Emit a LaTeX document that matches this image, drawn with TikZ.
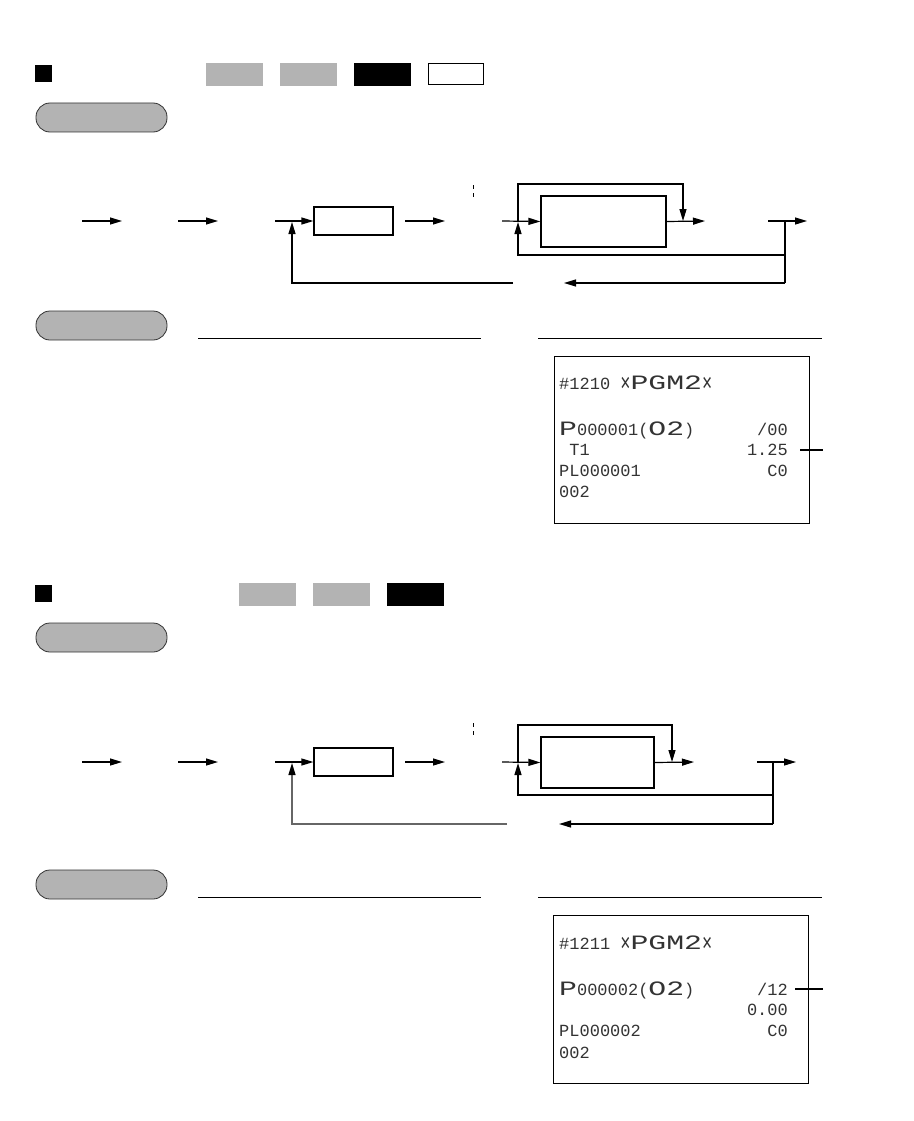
\documentclass[tikz,border=0pt]{standalone}
\usepackage{fontspec}
\newfontfamily\rcpt{Liberation Mono}
\usetikzlibrary{arrows.meta}
\definecolor{keygray}{HTML}{B3B3B3}
\newcommand{\dw}[1]{\scalebox{1.75}[1.2]{#1}}
\newcommand{\xm}{\raisebox{-0.12em}{\scalebox{1}[1.5]{×}}}
\begin{document}
\begin{tikzpicture}[x=1pt,y=-1pt,
  ln/.style={line width=1.2pt},
  arr/.style={ln,-{Triangle[length=12pt,width=7pt]}},
  grayarr/.style={ln,draw=black!60,-{Triangle[length=12pt,width=7pt,color=black]}},
  flowbox/.style={draw,line width=1.2pt,inner sep=0pt},
  pill/.style={draw=black!80,fill=keygray,line width=0.8pt,rounded corners=14pt,minimum width=131pt,minimum height=29pt,inner sep=0pt},
  keybox/.style={minimum width=57pt,minimum height=23pt,inner sep=0pt},
  sq/.style={fill=black,minimum width=17pt,minimum height=17pt,inner sep=0pt},
  rcptbox/.style={draw,line width=1pt,inner sep=0pt},
  rt/.style={font=\rcpt\fontsize{17pt}{19pt}\selectfont,text=black!80,inner sep=0pt},
  dmark/.style={line width=1pt,dash pattern=on 4pt off 4pt},
  rule/.style={line width=1pt}]
\useasboundingbox (0,0) rectangle (913,1121);

% ================= Section 1 header =================
\node[sq] (sq1) at (43.5,73.5) {};
\node[keybox,fill=keygray] (k1a) at (234.5,74.5) {};
\node[keybox,fill=keygray] (k1b) at (308.5,74.5) {};
\node[keybox,fill=black] (k1c) at (382.5,74.5) {};
\node[keybox,draw,line width=1pt,minimum width=55pt,minimum height=21pt] (k1d) at (456,74.5) {};
\node[pill] (p1) at (101.5,117.5) {};

% ================= Section 1 flow =================
\coordinate (a1s) at (82,221);  \coordinate (a1e) at (122,221);
\coordinate (a2s) at (178,221); \coordinate (a2e) at (218,221);
\coordinate (a3s) at (275,221);
\node[flowbox,minimum width=79pt,minimum height=28pt] (b1) at (353.5,221) {};
\coordinate (a4s) at (405,221); \coordinate (a4e) at (445,221);
\coordinate (m1a) at (473,185); \coordinate (m1b) at (473,198);
\coordinate (a5s) at (502,221);
\node[flowbox,minimum width=125pt,minimum height=51pt] (b2) at (603.5,221.5) {};
\coordinate (j1) at (518,221);
\coordinate (t1) at (683,184);
\coordinate (d1) at (683,221);
\coordinate (o1) at (705,221);
\coordinate (l1s) at (768,221); \coordinate (l1e) at (807,221);
\coordinate (k1) at (785,221);
\coordinate (k1m) at (785,255);
\coordinate (k1b) at (785,283);
\coordinate (up1) at (518,222);
\coordinate (f1a) at (564,283);
\coordinate (f1b) at (513,283);
\coordinate (f1t) at (292,222);

\draw[arr] (a1s) -- (a1e);
\draw[arr] (a2s) -- (a2e);
\draw[arr] (a3s) -- (b1.west);
\draw[arr] (a4s) -- (a4e);
\draw[dmark] (m1a) -- (m1b);
\draw[arr] (a5s) -- (b2.west);
\draw[arr] (j1) |- (t1) -- (d1);
\draw[arr] (b2.east) -- (o1);
\draw[arr] (l1s) -- (l1e);
\draw[ln] (k1) -- (k1b);
\draw[arr] (k1m) -| (up1);
\draw[arr] (k1b) -- (f1a);
\draw[arr] (f1b) -| (f1t);

% ================= Section 1 print =================
\node[pill] (p2) at (101.5,325.5) {};
\coordinate (r1a) at (198,338); \coordinate (r1b) at (481,338);
\coordinate (r1c) at (538,338); \coordinate (r1d) at (822,338);
\draw[rule] (r1a) -- (r1b);
\draw[rule] (r1c) -- (r1d);
\node[rcptbox,minimum width=255pt,minimum height=167pt] (rc1) at (681.5,439.5) {};
\node[rt,anchor=base west] (rc1l1) at (559,389) {\#1210 \xm\dw{PGM2}\xm};
\node[rt,anchor=base west] (rc1l2) at (559,435) {\dw{P}000001(\dw{O2})};
\node[rt,anchor=base east] (rc1r2) at (788,435) {/00};
\node[rt,anchor=base west] (rc1l3) at (559,455.5) {\ T1};
\node[rt,anchor=base east] (rc1r3) at (788,455.5) {1.25};
\node[rt,anchor=base west] (rc1l4) at (559,476.5) {PL000001};
\node[rt,anchor=base east] (rc1r4) at (788,476.5) {C0};
\node[rt,anchor=base west] (rc1l5) at (559,497.5) {002};
\coordinate (ld1a) at (800,450); \coordinate (ld1b) at (823,450);
\draw[ln] (ld1a) -- (ld1b);

% ================= Section 2 header =================
\node[sq] (sq2) at (43.5,593.5) {};
\node[keybox,fill=keygray] (k2a) at (267.5,594.5) {};
\node[keybox,fill=keygray] (k2b) at (341.5,594.5) {};
\node[keybox,fill=black] (k2c) at (415.5,594.5) {};
\node[pill] (p3) at (101.5,637.5) {};

% ================= Section 2 flow =================
\coordinate (c1s) at (82,762);  \coordinate (c1e) at (122,762);
\coordinate (c2s) at (178,762); \coordinate (c2e) at (218,762);
\coordinate (c3s) at (275,762);
\node[flowbox,minimum width=79pt,minimum height=28pt] (e1) at (353.5,762) {};
\coordinate (c4s) at (405,762); \coordinate (c4e) at (445,762);
\coordinate (m2a) at (473,723); \coordinate (m2b) at (473,736);
\coordinate (c5s) at (502,762);
\node[flowbox,minimum width=113pt,minimum height=51pt] (e2) at (597.5,762.5) {};
\coordinate (j2) at (518,762);
\coordinate (t2) at (672,725);
\coordinate (d2) at (672,762);
\coordinate (o2) at (694,762);
\coordinate (l2s) at (757,762); \coordinate (l2e) at (796,762);
\coordinate (k2) at (773,762);
\coordinate (k2m) at (773,795);
\coordinate (k2b) at (773,824);
\coordinate (up2) at (518,763);
\coordinate (f2a) at (559,824);
\coordinate (f2b) at (507,824);
\coordinate (f2t) at (292,763);

\draw[arr] (c1s) -- (c1e);
\draw[arr] (c2s) -- (c2e);
\draw[arr] (c3s) -- (e1.west);
\draw[arr] (c4s) -- (c4e);
\draw[dmark] (m2a) -- (m2b);
\draw[arr] (c5s) -- (e2.west);
\draw[arr] (j2) |- (t2) -- (d2);
\draw[arr] (e2.east) -- (o2);
\draw[arr] (l2s) -- (l2e);
\draw[ln] (k2) -- (k2b);
\draw[arr] (k2m) -| (up2);
\draw[arr] (k2b) -- (f2a);
\draw[grayarr] (f2b) -| (f2t);

% ================= Section 2 print =================
\node[pill] (p4) at (101.5,884.5) {};
\coordinate (r2a) at (198,897); \coordinate (r2b) at (481,897);
\coordinate (r2c) at (538,897); \coordinate (r2d) at (822,897);
\draw[rule] (r2a) -- (r2b);
\draw[rule] (r2c) -- (r2d);
\node[rcptbox,minimum width=255pt,minimum height=168pt] (rc2) at (680.5,999) {};
\node[rt,anchor=base west] (rc2l1) at (559,949) {\#1211 \xm\dw{PGM2}\xm};
\node[rt,anchor=base west] (rc2l2) at (559,995) {\dw{P}000002(\dw{O2})};
\node[rt,anchor=base east] (rc2r2) at (788,995) {/12};
\node[rt,anchor=base east] (rc2r3) at (788,1015.5) {0.00};
\node[rt,anchor=base west] (rc2l4) at (559,1036.5) {PL000002};
\node[rt,anchor=base east] (rc2r4) at (788,1036.5) {C0};
\node[rt,anchor=base west] (rc2l5) at (559,1058.5) {002};
\coordinate (ld2a) at (795,989); \coordinate (ld2b) at (823,989);
\draw[ln] (ld2a) -- (ld2b);
\end{tikzpicture}
\end{document}
